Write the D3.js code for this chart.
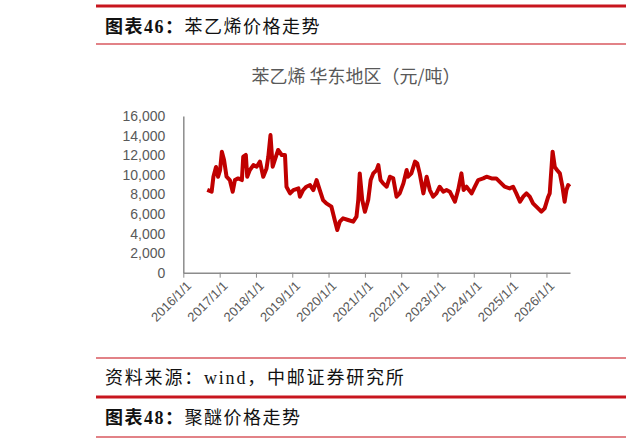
<!DOCTYPE html>
<html><head><meta charset="utf-8">
<script src="https://cdn.jsdelivr.net/npm/d3@7"></script>
<style>body{margin:0;background:#fff}</style>
</head><body>
<div id="chart"></div>
<script>
// decimal years since 2016, price in yuan/ton
const years = [0.66,0.78,0.83,0.90,0.96,1.01,1.06,1.12,1.19,1.28,1.36,1.42,1.51,1.61,1.65,1.72,1.76,1.83,1.93,2.02,2.11,2.20,2.29,2.34,2.40,2.46,2.52,2.61,2.71,2.80,2.84,2.94,
  3.03,3.17,3.21,3.30,3.39,3.49,3.58,3.67,3.76,3.85,3.94,4.08,4.17,4.24,4.31,4.40,4.54,4.68,4.77,4.82,4.86,4.93,5.00,5.09,5.16,5.23,5.32,5.37,5.43,5.50,5.60,5.69,5.78,5.87,5.96,
  6.06,6.15,6.19,6.28,6.38,6.44,6.51,6.61,6.70,6.79,6.88,6.97,7.06,7.16,7.25,7.34,7.48,7.57,7.66,7.72,7.80,7.94,8.03,8.12,8.26,8.35,8.49,8.62,8.76,8.85,8.99,
  9.08,9.17,9.27,9.36,9.45,9.54,9.63,9.77,9.86,9.95,10.05,10.09,10.17,10.23,10.29,10.37,10.44,10.50,10.55,10.60,10.64]
const prices = [8450,8270,9800,10800,9800,10480,12350,11510,9800,9460,8270,9460,9630,9460,11850,12020,9800,10480,10990,10820,11340,9800,10650,11850,14050,10820,11510,12530,12020,12020,8780,8100,
  8440,8610,7760,8440,8780,8950,8440,9460,8440,7420,7080,6740,5380,4360,5210,5550,5380,5210,5720,7420,10140,7420,6230,7420,9460,10140,10480,10990,9460,9120,8780,9800,9630,7760,8100,
  9120,10480,9800,10140,11340,11170,10140,8100,9800,8440,7760,8100,8780,8270,8440,8270,7250,8440,10140,8440,8780,8100,8780,9460,9630,9800,9630,9630,9120,8780,8610,
  8780,8100,7250,7760,8100,7760,7080,6570,6230,6570,7760,8100,12360,10820,10480,10140,8780,7250,8440,8950,8780]
const yTicks = [0,2000,4000,6000,8000,10000,12000,14000,16000]
const chartTitle = '苯乙烯 华东地区（元/吨）'

const W = 626, H = 440
const svg = d3.select('#chart').append('svg').attr('width', W).attr('height', H)
const red = '#c8161e'
const cjkSerif = '"Liberation Serif","Noto Sans CJK SC",serif'

// frame lines
const hline = (y, w, c) => svg.append('line').attr('x1', 96).attr('x2', W).attr('y1', y).attr('y2', y)
    .attr('stroke', c).attr('stroke-width', w)
hline(6, 3, red); hline(44, 1.5, '#d9595f')
hline(358, 1.5, '#d9595f'); hline(397, 3, red); hline(437, 1.5, '#d9595f')

const header = (y, bold, rest) => {
    const t = svg.append('text').attr('x', 105).attr('y', y).attr('font-family', cjkSerif)
        .attr('font-size', 18).attr('letter-spacing', 1.5).attr('fill', '#111')
    t.append('tspan').attr('font-weight', 'bold').text(bold)
    t.append('tspan').text(rest)
}
header(33, '图表46：', '苯乙烯价格走势')
header(424, '图表48：', '聚醚价格走势')
svg.append('text').attr('x', 105).attr('y', 384).attr('font-family', cjkSerif).attr('letter-spacing', 1.8)
    .attr('font-size', 18).attr('fill', '#111').text('资料来源：wind，中邮证券研究所')

svg.append('text').attr('x', 356).attr('y', 83).attr('text-anchor', 'middle')
    .attr('font-family', '"Noto Sans CJK SC",sans-serif').attr('font-size', 18).attr('fill', '#595959')
    .text(chartTitle)

const toDate = yr => new Date(2016 + Math.floor(yr), 0, 1 + Math.round((yr % 1) * 365))
const data = years.map((y, i) => ({date: toDate(y), value: prices[i]}))

const x = d3.scaleTime().domain([new Date(2016, 0, 1), toDate(10.65)]).range([183.3, 570])
const y = d3.scaleLinear().domain([0, 16000]).range([272.7, 116])

const gx = svg.append('g').attr('transform', 'translate(0,272.7)')
    .call(d3.axisBottom(x).tickValues(d3.range(2016, 2027).map(v => new Date(v, 0, 1)))
        .tickFormat(d3.timeFormat('%Y/%-m/%-d')).tickSize(5).tickSizeOuter(0))
gx.select('.domain').attr('stroke', '#8c8c8c').attr('stroke-width', 1.5)
gx.selectAll('.tick line').attr('stroke', '#8c8c8c')
gx.selectAll('text').attr('font-family', '"Liberation Sans",sans-serif').attr('font-size', 13)
    .attr('fill', '#595959').attr('text-anchor', 'end')
    .attr('transform', 'rotate(-45)').attr('dx', '-0.3em').attr('dy', '0.6em')

const gy = svg.append('g').attr('transform', 'translate(183.3,0)')
    .call(d3.axisLeft(y).tickValues(yTicks).tickFormat(d3.format(',')).tickSize(0).tickPadding(18))
gy.select('.domain').attr('stroke', '#8c8c8c').attr('stroke-width', 1.5)
gy.selectAll('text').attr('font-family', '"Liberation Sans",sans-serif').attr('font-size', 14).attr('fill', '#595959')

svg.append('path').datum(data)
    .attr('fill', 'none').attr('stroke', '#c00000').attr('stroke-width', 4)
    .attr('stroke-linejoin', 'round')
    .attr('d', d3.line().x(d => x(d.date)).y(d => y(d.value)))
</script>
</body></html>
